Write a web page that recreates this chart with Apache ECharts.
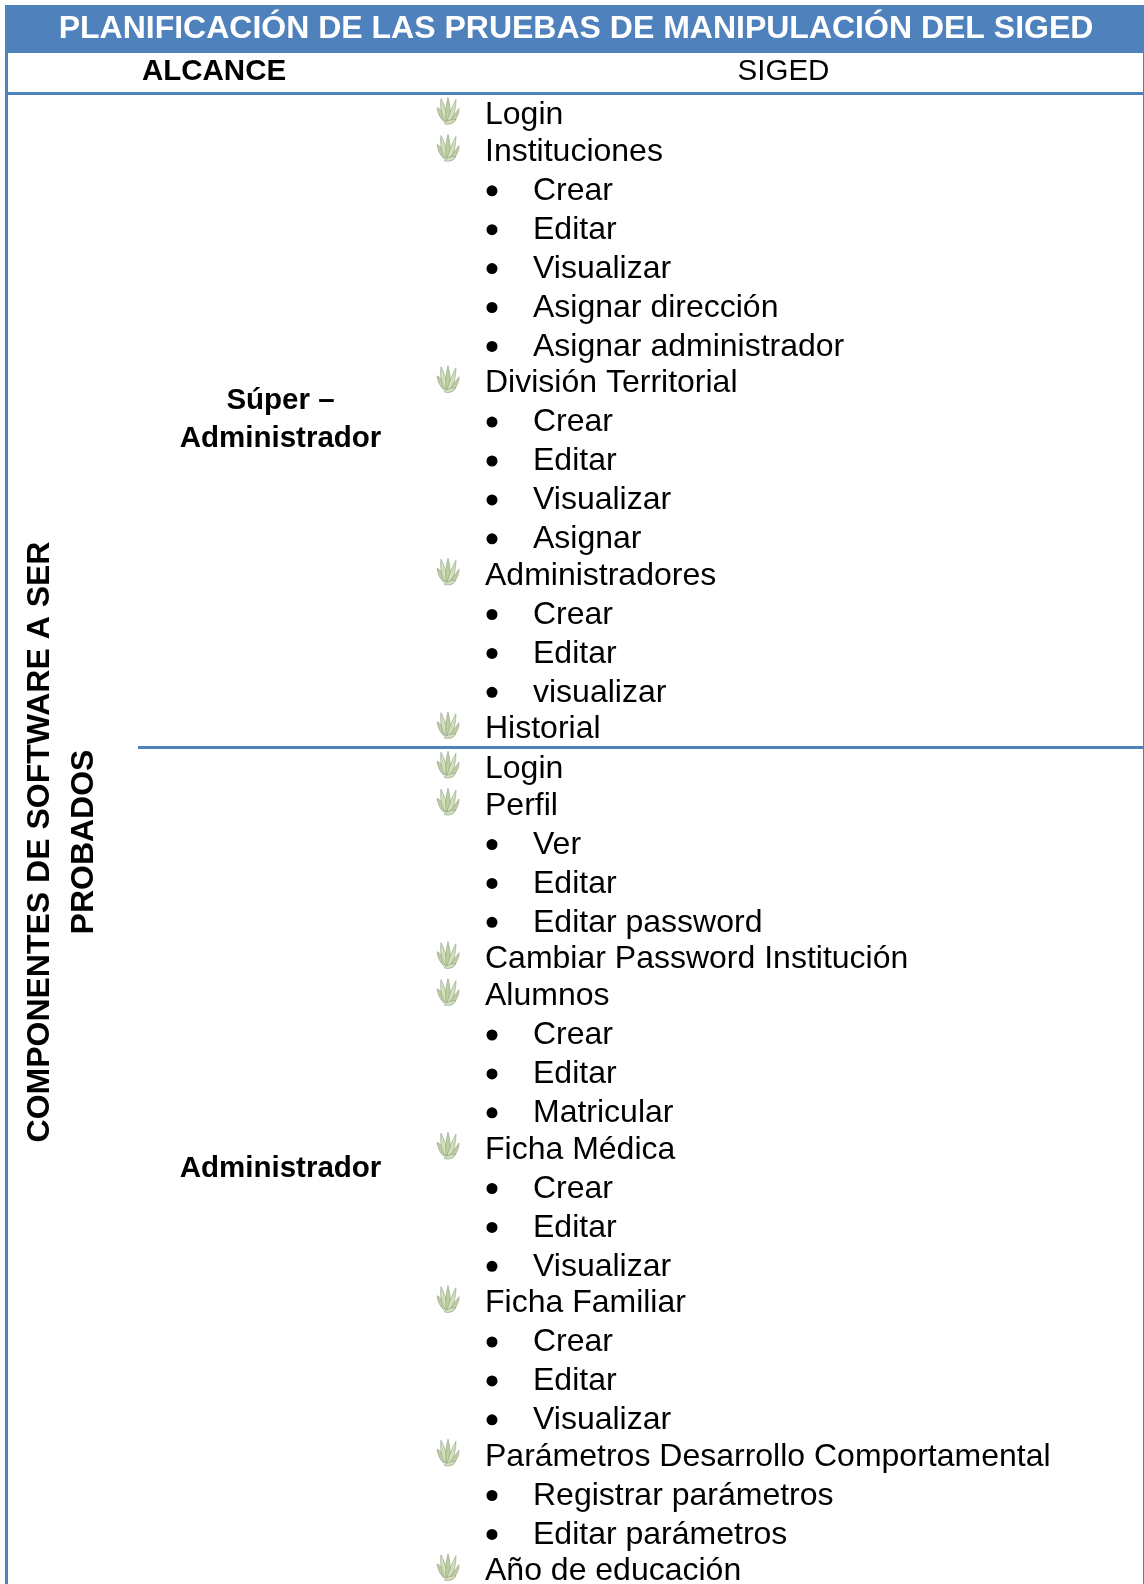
<!DOCTYPE html>
<html><head><meta charset="utf-8">
<style>html,body{margin:0;padding:0;background:#fff}#c{width:1144px;height:1584px}</style>
<script src="https://cdn.jsdelivr.net/npm/echarts@6/dist/echarts.min.js"></script>
</head><body><div id="c"></div>
<script>
const titleText = 'PLANIFICACIÓN DE LAS PRUEBAS DE MANIPULACIÓN DEL SIGED';
const scopeHeader = 'ALCANCE';
const systemHeader = 'SIGED';
const sideLabels = ['COMPONENTES DE SOFTWARE A SER', 'PROBADOS'];
const superRole = ['Súper –', 'Administrador'];
const adminRole = ['Administrador'];
const superLabels = ['Login','Instituciones','Crear','Editar','Visualizar','Asignar dirección','Asignar administrador','División Territorial','Crear','Editar','Visualizar','Asignar','Administradores','Crear','Editar','visualizar','Historial'];
const superLevels = [1,1,2,2,2,2,2,1,2,2,2,2,1,2,2,2,1];
const adminLabels = ['Login','Perfil','Ver','Editar','Editar password','Cambiar Password Institución','Alumnos','Crear','Editar','Matricular','Ficha Médica','Crear','Editar','Visualizar','Ficha Familiar','Crear','Editar','Visualizar','Parámetros Desarrollo Comportamental','Registrar parámetros','Editar parámetros','Año de educación'];
const adminLevels = [1,1,2,2,2,1,1,2,2,2,1,2,2,2,1,2,2,2,1,2,2,1];

const BLUE = '#4f81bd', FONT = '"Liberation Sans", Arial, sans-serif';
const W = 1144, H = 1584;
function gap(prev, cur){ return prev===1 ? (cur===1?37:39.3) : (cur===1?36.4:38.9); }
const rows = [];
let y = 114.5;
superLabels.forEach((t,i)=>{ if(i) y += gap(superLevels[i-1],superLevels[i]); rows.push([superLevels[i],y,t]); });
y += 39.5;
adminLabels.forEach((t,i)=>{ if(i) y += gap(adminLevels[i-1],adminLevels[i]); rows.push([adminLevels[i],y,t]); });

const blades = [
 'M-4 11 C-8 8 -10 3 -11 -3 C-7 -1 -4 3 -2 7 Z',
 'M-3 11 C-7 4 -8 -5 -7 -12 C-4 -6 -1 2 0 9 Z',
 'M-2 11 C-3 3 -2 -6 0 -13 C2 -6 3 3 2 10 Z',
 'M-1 11 C1 4 4 -4 8 -11 C8 -3 6 5 3 11 Z',
 'M0 12 C4 8 7 3 11 -2 C11 4 8 9 4 13 Z',
 'M-4 13 C-1 10 3 9 8 9 C6 13 0 15 -4 13 Z'
];
function renderRow(params, api){
  const level = api.value(0), yy = api.coord([0, api.value(1)])[1];
  const label = rows[params.dataIndex][2];
  const children = [];
  const font = '32px '+FONT, textY = yy+0.5;
  if(level===1){
    blades.forEach((d,k)=>children.push({type:'path',
      shape:{pathData:d},
      style:{fill:k%2?'#d3e0b8':'#bccfa3',stroke:'#8f9d85',lineWidth:0.6},
      x:448,y:yy-4}));
    children.push({type:'text',style:{text:label,x:485,y:textY,font,fill:'#000',verticalAlign:'middle',textAlign:'left'}});
  } else {
    children.push({type:'circle',shape:{cx:492,cy:yy,r:5.5},style:{fill:'#000'}});
    children.push({type:'text',style:{text:label,x:533,y:textY,font,fill:'#000',verticalAlign:'middle',textAlign:'left'}});
  }
  return {type:'group',children};
}
function bold(text,x,yy,size,fill,rot){
  return {type:'text',x,y:yy,rotation:rot||0,style:{text,x:0,y:0,font:'bold '+size+'px '+FONT,fill:fill||'#000',textAlign:'center',verticalAlign:'middle'},z:5};
}
function rect(x,yy,w,h,fill){ return {type:'rect',shape:{x,y:yy,width:w,height:h},style:{fill},z:3}; }

const chart = echarts.init(document.getElementById('c'),null,{renderer:'canvas'});
chart.setOption({
  animation:false,
  backgroundColor:'#fff',
  grid:{left:0,right:0,top:0,bottom:0},
  xAxis:{type:'value',min:0,max:W,show:false},
  yAxis:{type:'value',min:0,max:H,inverse:true,show:false},
  series:[{type:'custom',coordinateSystem:'cartesian2d',renderItem:renderRow,clip:false,z:4,
    data:rows.map(r=>[r[0],r[1]])}],
  graphic:{elements:[
    rect(5,5,1139,48,BLUE),
    rect(5,5,3,1579,BLUE),
    rect(1143,5,1,1579,BLUE),
    rect(5,92,1139,3,BLUE),
    rect(138,746,1006,3,BLUE),
    bold(titleText,576,29,32,'#fff'),
    bold(scopeHeader,214,72,29.5),
    {type:'text',x:783.5,y:72,style:{text:systemHeader,x:0,y:0,font:'29.5px '+FONT,fill:'#000',textAlign:'center',verticalAlign:'middle'},z:5},
    bold(superRole[0],280.5,401,29.5),
    bold(superRole[1],280.5,439,29.5),
    bold(adminRole[0],280.5,1169,29.5),
    bold(sideLabels[0],40.5,842,32,'#000',Math.PI/2),
    bold(sideLabels[1],84,842,32,'#000',Math.PI/2)
  ]}
});
</script></body></html>
